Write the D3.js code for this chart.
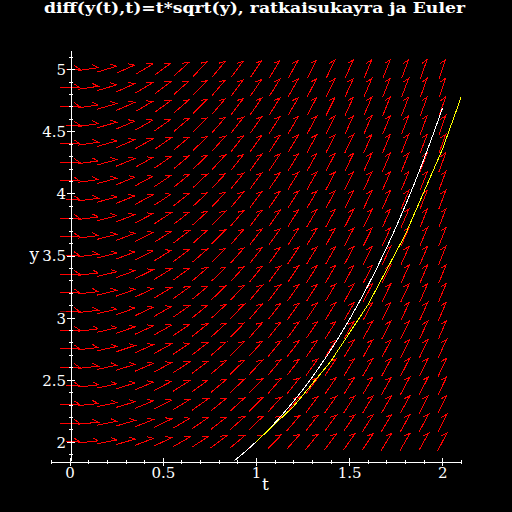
<!DOCTYPE html>
<html>
<head>
<meta charset="utf-8">
<script src="https://cdn.jsdelivr.net/npm/d3@7"></script>
<style>
  html, body { margin: 0; padding: 0; background: #000; }
  svg { display: block; background: #000; }
</style>
</head>
<body>
<svg id="chart" width="512" height="512"></svg>
<script>
// ---------- data ----------
const title = "diff(y(t),t)=t*sqrt(y), ratkaisukayra ja Euler";
const xLabel = "t";
const yLabel = "y";
const xTicks = [0, 0.5, 1, 1.5, 2];
const xTickLabels = ["0", "0.5", "1", "1.5", "2"];
const yTicks = [2, 2.5, 3, 3.5, 4, 4.5, 5];
const yTickLabels = ["2", "2.5", "3", "3.5", "4", "4.5", "5"];
const xMinor = [-0.1,0.1,0.2,0.3,0.4,0.6,0.7,0.8,0.9,1.1,1.2,1.3,1.4,1.6,1.7,1.8,1.9,2.1];
const yMinor = [1.9,2.1,2.2,2.3,2.4,2.6,2.7,2.8,2.9,3.1,3.2,3.3,3.4,3.6,3.7,3.8,3.9,4.1,4.2,4.3,4.4,4.6,4.7,4.8,4.9,5.1];

// direction field grid (ODE: dy/dt = t*sqrt(y))
const fieldT = [0,0.1,0.2,0.3,0.4,0.5,0.6,0.7,0.8,0.9,1.0,1.1,1.2,1.3,1.4,1.5,1.6,1.7,1.8,1.9,2.0];
const fieldY = [2,2.15,2.3,2.45,2.6,2.75,2.9,3.05,3.2,3.35,3.5,3.65,3.8,3.95,4.1,4.25,4.4,4.55,4.7,4.85,5];
const slope = (t, y) => t * Math.sqrt(y);

// solution curve (white)
const solT = [0.80,0.85,0.90,0.95,1.00,1.05,1.10,1.15,1.20,1.25,1.30,1.35,1.40,1.45,1.50,1.55,1.60,1.65,1.70,1.75,1.80,1.85,1.90,1.95,2.00];
const solY = [1.7535,1.8086,1.8679,1.9317,2.0000,2.0731,2.1513,2.2345,2.3232,2.4175,2.5177,2.6239,2.7364,2.8556,2.9815,3.1147,3.2552,3.4034,3.5597,3.7243,3.8975,4.0798,4.2713,4.4726,4.6838];

// Euler polyline (yellow)
const eulerT = [1.0, 1.2, 1.4, 1.6, 1.8, 2.0, 2.2];
const eulerY = [2.0, 2.2828, 2.6455, 3.1009, 3.6644, 4.3535, 5.1881];

// ---------- drawing ----------
const svg = d3.select("#chart");
const x = d3.scaleLinear().domain([-0.1, 2.1]).range([51, 461]);
const y = d3.scaleLinear().domain([1.85, 5.15]).range([460.5, 50.5]);

svg.append("defs").append("clipPath").attr("id", "plotclip")
  .append("rect").attr("x", x(-0.1)).attr("y", y(5.15))
  .attr("width", x(2.1) - x(-0.1)).attr("height", y(1.85) - y(5.15));

// direction field
const L = 20, B = 6.5, barbAng = 35 * Math.PI / 180;
const arrows = [];
fieldT.forEach(t => fieldY.forEach(v => arrows.push({t, v})));
svg.append("g").selectAll("path").data(arrows).join("path")
  .attr("d", d => {
    const cx = x(d.t), cy = y(d.v);
    const h = 1e-3;
    let dx = x(d.t + h) - x(d.t);
    let dy = y(d.v + slope(d.t, d.v) * h) - y(d.v);
    const n = Math.hypot(dx, dy); dx /= n; dy /= n;
    const tx = cx - dx * L / 2, ty = cy - dy * L / 2;
    const hx = cx + dx * L / 2, hy = cy + dy * L / 2;
    const a = Math.atan2(dy, -dx) - barbAng;
    const bx = hx + Math.cos(a) * B, by = hy - Math.sin(a) * B;
    return `M${tx},${ty}L${hx},${hy}L${bx},${by}`;
  })
  .attr("fill", "none").attr("stroke", "#ff0000").attr("stroke-width", 1)
  .attr("shape-rendering", "crispEdges");

// curves
const line = d3.line().x(d => x(d[0])).y(d => y(d[1]));
const curves = svg.append("g").attr("clip-path", "url(#plotclip)");
curves.append("path").datum(solT.map((t, i) => [t, solY[i]]))
  .attr("d", line).attr("fill", "none").attr("stroke", "#ffffff").attr("stroke-width", 1)
  .attr("shape-rendering", "crispEdges");
curves.append("path").datum(eulerT.map((t, i) => [t, eulerY[i]]))
  .attr("d", line).attr("fill", "none").attr("stroke", "#ffff00").attr("stroke-width", 1)
  .attr("shape-rendering", "crispEdges");

// axes
const xAxisY = Math.round(y(1.85)) + 0.5;
const yAxisX = Math.round(x(0)) + 0.5;
const axisFont = "'DejaVu Serif', serif";

function styleAxis(g) {
  g.selectAll("path.domain").attr("stroke", "#fff").attr("shape-rendering", "crispEdges");
  g.selectAll("line").attr("stroke", "#fff").attr("shape-rendering", "crispEdges");
  g.selectAll("text").attr("fill", "#fff");
}
const gxMinB = svg.append("g").attr("transform", `translate(0,${xAxisY})`)
  .call(d3.axisBottom(x).tickValues(xMinor).tickSize(2).tickFormat("").tickSizeOuter(0)).call(styleAxis);
const gxMinT = svg.append("g").attr("transform", `translate(0,${xAxisY})`)
  .call(d3.axisTop(x).tickValues(xMinor).tickSize(2).tickFormat("").tickSizeOuter(0)).call(styleAxis);
gxMinT.select("path.domain").remove();
const gxT = svg.append("g").attr("transform", `translate(0,${xAxisY})`)
  .call(d3.axisTop(x).tickValues(xTicks).tickSize(4).tickFormat("").tickSizeOuter(0)).call(styleAxis);
gxT.select("path.domain").remove();
const gx = svg.append("g").attr("transform", `translate(0,${xAxisY})`)
  .call(d3.axisBottom(x).tickValues(xTicks).tickSize(4).tickSizeOuter(0)
    .tickFormat((d, i) => xTickLabels[i])).call(styleAxis);
gx.select("path.domain").remove();
gx.selectAll("text").attr("font-family", axisFont).attr("font-size", 15)
  .attr("dy", null).attr("y", 16.5);

const gyMinL = svg.append("g").attr("transform", `translate(${yAxisX},0)`)
  .call(d3.axisLeft(y).tickValues(yMinor).tickSize(2).tickFormat("").tickSizeOuter(0)).call(styleAxis);
const gyMinR = svg.append("g").attr("transform", `translate(${yAxisX},0)`)
  .call(d3.axisRight(y).tickValues(yMinor).tickSize(2).tickFormat("").tickSizeOuter(0)).call(styleAxis);
gyMinR.select("path.domain").remove();
const gyR = svg.append("g").attr("transform", `translate(${yAxisX},0)`)
  .call(d3.axisRight(y).tickValues(yTicks).tickSize(4).tickFormat("").tickSizeOuter(0)).call(styleAxis);
gyR.select("path.domain").remove();
const gy = svg.append("g").attr("transform", `translate(${yAxisX},0)`)
  .call(d3.axisLeft(y).tickValues(yTicks).tickSize(4).tickSizeOuter(0)
    .tickFormat((d, i) => yTickLabels[i])).call(styleAxis);
gy.select("path.domain").remove();
gy.selectAll("text").attr("font-family", axisFont).attr("font-size", 15)
  .attr("x", -4.5).attr("dy", "0.36em");

[gx, gy].forEach(g => {
  g.selectAll(".tick").each(function() {
    const tk = d3.select(this);
    const bb = tk.select("text").node().getBBox();
    tk.insert("rect", "text").attr("x", bb.x).attr("y", bb.y + 2)
      .attr("width", bb.width).attr("height", bb.height - 4).attr("fill", "#000");
  });
});

// axis labels
svg.append("text").attr("x", 265.5).attr("y", 490).attr("text-anchor", "middle")
  .attr("font-family", axisFont).attr("font-size", 17).attr("fill", "#fff").text(xLabel);
svg.append("text").attr("x", 39).attr("y", 260).attr("text-anchor", "end")
  .attr("font-family", axisFont).attr("font-size", 17).attr("fill", "#fff").text(yLabel);

// title
svg.append("text").attr("x", 44).attr("y", 13)
  .attr("font-family", axisFont).attr("font-weight", "bold").attr("font-size", 15)
  .attr("fill", "#fff").attr("textLength", 421).attr("lengthAdjust", "spacingAndGlyphs")
  .text(title);
</script>
</body>
</html>
